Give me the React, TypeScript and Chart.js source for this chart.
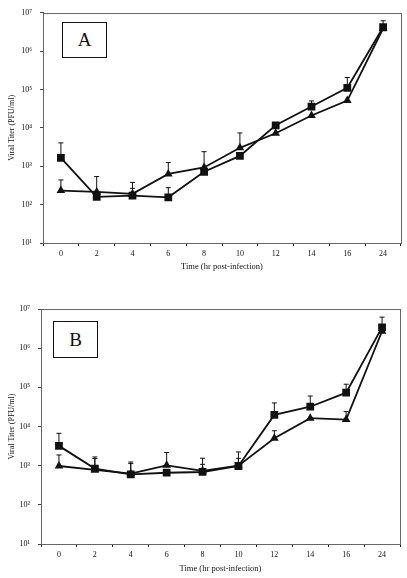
import React, { useEffect, useRef } from "react";
import { Chart, registerables } from "chart.js";

Chart.register(...registerables);

const categories = ["0", "2", "4", "6", "8", "10", "12", "14", "16", "24"];
const yTickValues = [10, 100, 1000, 10000, 100000, 1000000, 10000000];
const yTickLabels = ["10¹", "10²", "10³", "10⁴", "10⁵", "10⁶", "10⁷"];

// Panel A
const aSquares = [1650, 160, 172, 155, 720, 1860, 11700, 36000, 111000, 4200000];
const aSquaresErr = [4070, 540, 266, 277, null, null, null, 50500, 206000, 6200000];
const aTriangles = [233, 215, 191, 630, 930, 3030, 7240, 21000, 51500, 3900000];
const aTrianglesErr = [440, null, 380, 1250, 2400, 7380, null, null, null, null];

// Panel B
const bSquares = [3200, 840, 600, 660, 690, 980, 19800, 32000, 73000, 3400000];
const bSquaresErr = [6700, 1670, 1240, null, 1550, 2240, 40000, 60000, 120000, 6200000];
const bTriangles = [980, 780, 625, 1020, 740, 1000, 5000, 16300, 15000, 2700000];
const bTrianglesErr = [1880, 1520, 1130, 2170, 1080, 1540, 7800, null, 24000, null];

const FONT = "'Liberation Serif', 'Times New Roman', serif";

const errorBarPlugin = {
  id: "errorBars",
  beforeDatasetsDraw(chart: any) {
    const { ctx, scales } = chart;
    const x = scales.x;
    const y = scales.y;
    ctx.save();
    ctx.strokeStyle = "#111";
    ctx.lineWidth = 1;
    chart.data.datasets.forEach((ds: any) => {
      const errs = ds.errTop as (number | null)[];
      if (!errs) return;
      errs.forEach((e, i) => {
        if (e == null) return;
        const px = x.getPixelForValue(i);
        const py = y.getPixelForValue(ds.data[i]);
        const ey = y.getPixelForValue(e);
        ctx.beginPath();
        ctx.moveTo(px, py);
        ctx.lineTo(px, ey);
        ctx.moveTo(px - 2.5, ey);
        ctx.lineTo(px + 2.5, ey);
        ctx.stroke();
      });
    });
    ctx.restore();
  },
  afterDraw(chart: any) {
    const { ctx, chartArea } = chart;
    ctx.save();
    ctx.strokeStyle = "#666";
    ctx.lineWidth = 1;
    ctx.strokeRect(
      Math.round(chartArea.left) + 0.5,
      Math.round(chartArea.top) + 0.5,
      Math.round(chartArea.right - chartArea.left),
      Math.round(chartArea.bottom - chartArea.top)
    );
    ctx.restore();
  },
};

type PanelProps = {
  squares: number[];
  squaresErr: (number | null)[];
  triangles: number[];
  trianglesErr: (number | null)[];
  width: number;
  height: number;
  padTop: number;
  padRight: number;
  yWidth: number;
  xHeight: number;
};

function Panel(p: PanelProps) {
  const ref = useRef<HTMLCanvasElement | null>(null);
  useEffect(() => {
    if (!ref.current) return;
    const chart = new Chart(ref.current, {
      type: "line",
      data: {
        labels: categories,
        datasets: [
          {
            data: p.triangles,
            errTop: p.trianglesErr,
            borderColor: "#111",
            borderWidth: 1.8,
            pointStyle: "triangle",
            pointRadius: 5,
            pointBackgroundColor: "#111",
            pointBorderColor: "#111",
            pointBorderWidth: 0,
            tension: 0,
          } as any,
          {
            data: p.squares,
            errTop: p.squaresErr,
            borderColor: "#111",
            borderWidth: 1.8,
            pointStyle: "rect",
            pointRadius: 5.5,
            pointBackgroundColor: "#111",
            pointBorderColor: "#111",
            pointBorderWidth: 0,
            tension: 0,
          } as any,
        ],
      },
      options: {
        animation: false,
        responsive: false,
        maintainAspectRatio: false,
        layout: { padding: { top: p.padTop, right: p.padRight, left: 0, bottom: 0 } },
        plugins: { legend: { display: false }, tooltip: { enabled: false } },
        scales: {
          x: {
            type: "category",
            offset: true,
            grid: { offset: true, drawOnChartArea: false, tickLength: 3, color: "#222" },
            border: { color: "#222", width: 1 },
            ticks: { color: "#111", font: { family: FONT, size: 8 }, padding: 3, maxRotation: 0 },
            title: {
              display: true,
              text: "Time (hr post-infection)",
              color: "#111",
              font: { family: FONT, size: 8.5 },
              padding: { top: 0, bottom: 4 },
            },
            afterFit: (s: any) => {
              s.height = p.xHeight;
            },
          },
          y: {
            type: "logarithmic",
            min: 10,
            max: 10000000,
            grid: { drawOnChartArea: false, tickLength: 3, color: "#444" },
            border: { color: "#444", width: 1 },
            afterBuildTicks: (axis: any) => {
              axis.ticks = yTickValues.map((v) => ({ value: v }));
            },
            ticks: {
              color: "#111",
              font: { family: FONT, size: 8 },
              padding: 8,
              callback: (v: any) => {
                const i = yTickValues.indexOf(Number(v));
                return i >= 0 ? yTickLabels[i] : "";
              },
            },
            title: {
              display: true,
              text: "Viral Titer (PFU/ml)",
              color: "#111",
              font: { family: FONT, size: 8 },
              padding: { top: 7, bottom: 0 },
            },
            afterFit: (s: any) => {
              s.width = p.yWidth;
            },
          },
        },
      } as any,
      plugins: [errorBarPlugin],
    });
    return () => chart.destroy();
  }, []);
  return <canvas ref={ref} width={p.width} height={p.height} style={{ display: "block" }} />;
}

const boxStyle: React.CSSProperties = {
  position: "absolute",
  border: "1.5px solid #111",
  background: "#fff",
  boxSizing: "border-box",
  display: "flex",
  alignItems: "center",
  justifyContent: "center",
  fontFamily: FONT,
  fontSize: 19,
  color: "#111",
};

export default function App() {
  return (
    <div style={{ position: "absolute", left: 0, top: 0, width: 407, height: 578, background: "#fff" }}>
      <div style={{ position: "absolute", left: 0, top: 0 }}>
        <Panel
          squares={aSquares}
          squaresErr={aSquaresErr}
          triangles={aTriangles}
          trianglesErr={aTrianglesErr}
          width={407}
          height={276}
          padTop={7}
          padRight={6}
          yWidth={43}
          xHeight={33}
        />
      </div>
      <div style={{ position: "absolute", left: 0, top: 296 }}>
        <Panel
          squares={bSquares}
          squaresErr={bSquaresErr}
          triangles={bTriangles}
          trianglesErr={bTrianglesErr}
          width={407}
          height={282}
          padTop={13}
          padRight={7}
          yWidth={41}
          xHeight={34}
        />
      </div>
      <div style={{ ...boxStyle, left: 62, top: 22, width: 45, height: 36 }}>A</div>
      <div style={{ ...boxStyle, left: 53, top: 321, width: 45, height: 37 }}>B</div>
    </div>
  );
}
